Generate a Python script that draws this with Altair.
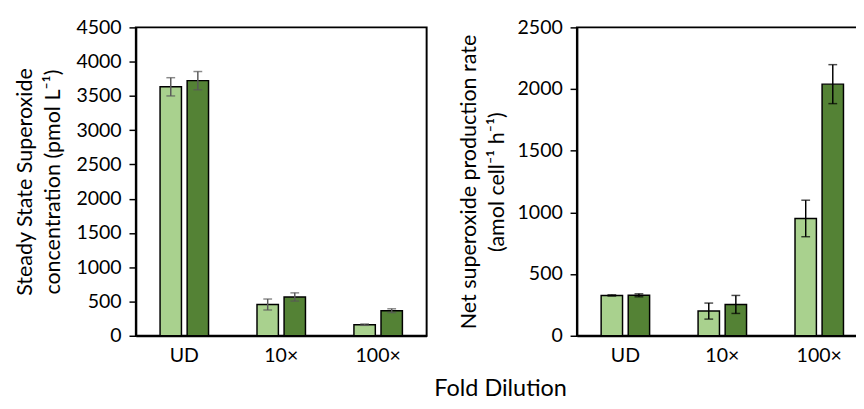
import altair as alt
import pandas as pd

dilutions = ["UD", "10×", "100×"]
series = ["Series 1", "Series 2"]

ss_light = [3633, 456, 162]
ss_light_err = [133, 80, 10]
ss_dark = [3723, 566, 366]
ss_dark_err = [133, 60, 28]

rate_light = [327, 200, 951]
rate_light_err = [5, 65, 148]
rate_dark = [328, 254, 2040]
rate_dark_err = [12, 73, 158]

LIGHT = "#A9D18E"
DARK = "#548235"
FONT = "Lato"


def build_df(light, light_err, dark, dark_err):
    rows = []
    for i, d in enumerate(dilutions):
        rows.append({"dilution": d, "series": series[0], "value": light[i],
                     "lo": light[i] - light_err[i], "hi": light[i] + light_err[i]})
        rows.append({"dilution": d, "series": series[1], "value": dark[i],
                     "lo": dark[i] - dark_err[i], "hi": dark[i] + dark_err[i]})
    return pd.DataFrame(rows)


def panel(df, ymax, title, errcolor, title_pad):
    x = alt.X("dilution:N", sort=dilutions, title=None,
              scale=alt.Scale(paddingInner=0.5, paddingOuter=0.25),
              axis=alt.Axis(labelAngle=0, ticks=False, labelPadding=10,
                            domainColor="black", domainWidth=2,
                            labelFontSize=20, labelFont=FONT, labelColor="black"))
    xo = alt.XOffset("series:N", sort=series,
                     scale=alt.Scale(paddingInner=0.21, paddingOuter=0))
    yscale = alt.Scale(domain=[0, ymax], nice=False)
    yaxis = alt.Axis(values=list(range(0, ymax + 1, 500)), format="d", grid=False,
                     labelOverlap=False,
                     domainColor="black", domainWidth=2, tickColor="black",
                     tickWidth=1.5, tickSize=7, labelPadding=8,
                     labelFontSize=20, labelFont=FONT, labelColor="black",
                     title=title, titleFont=FONT, titleFontSize=22,
                     titleFontWeight="normal", titleColor="black",
                     titleLineHeight=28, titlePadding=title_pad)
    base = alt.Chart(df)
    bars = base.mark_bar(stroke="black", strokeWidth=1.5).encode(
        x=x, xOffset=xo,
        y=alt.Y("value:Q", scale=yscale, axis=yaxis),
        color=alt.Color("series:N", scale=alt.Scale(domain=series, range=[LIGHT, DARK]),
                        legend=None),
    )
    rule = base.mark_rule(color=errcolor, strokeWidth=1.5).encode(
        x=x, xOffset=xo, y=alt.Y("lo:Q", scale=yscale, axis=yaxis), y2="hi:Q")
    cap_lo = base.mark_tick(color=errcolor, thickness=1.5, size=9).encode(
        x=x, xOffset=xo, y=alt.Y("lo:Q", scale=yscale, axis=yaxis))
    cap_hi = base.mark_tick(color=errcolor, thickness=1.5, size=9).encode(
        x=x, xOffset=xo, y=alt.Y("hi:Q", scale=yscale, axis=yaxis))
    return alt.layer(bars, rule, cap_lo, cap_hi).properties(width=298, height=316)


left = panel(build_df(ss_light, ss_light_err, ss_dark, ss_dark_err), 4500,
             ["Steady State Superoxide", "concentration (pmol L⁻¹)"], "#595959", 12)
right = panel(build_df(rate_light, rate_light_err, rate_dark, rate_dark_err), 2500,
              ["Net superoxide production rate", "(amol cell⁻¹ h⁻¹)"], "black", 9)

chart = alt.hconcat(left, right, spacing=30).properties(
    padding={"left": 5, "top": 4, "right": -13, "bottom": -4},
    title=alt.TitleParams("Fold Dilution", orient="bottom", anchor="middle",
                          font=FONT, fontSize=24, fontWeight="normal", color="black",
                          offset=12, dx=61)
).configure_view(stroke="black", strokeWidth=2)

chart.save("out.html", embed_options={"renderer": "svg", "actions": False})
